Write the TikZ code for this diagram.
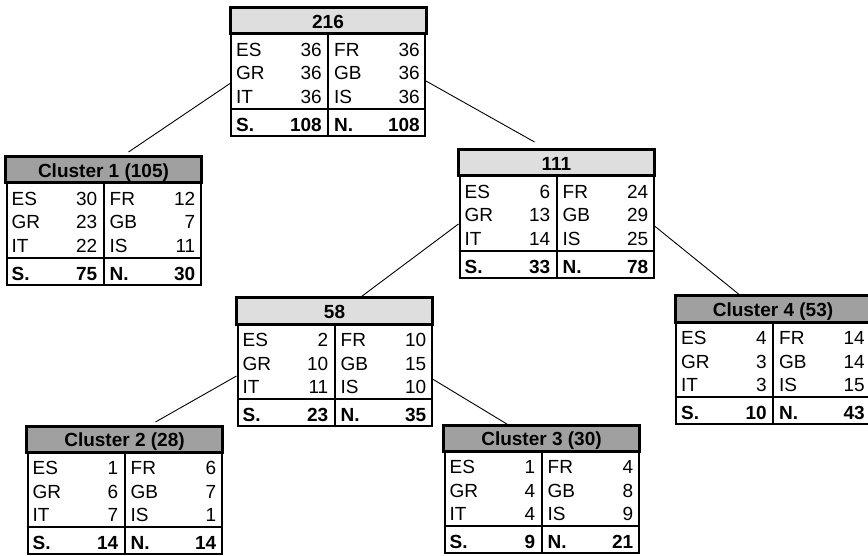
\documentclass[tikz,border=0pt]{standalone}
\usepackage{fontspec}
\setmainfont{Liberation Sans}
\usepackage{tikz}
\usetikzlibrary{calc, positioning}

\definecolor{hdrlight}{RGB}{222,222,222}
\definecolor{hdrdark}{RGB}{160,160,160}

\tikzset{
  tabbox/.style={draw, line width=2pt, minimum width=194pt, minimum height=127pt,
    inner sep=0pt, anchor=north west},
  hdrbox/.style={draw, line width=3pt},
  sumrule/.style={line width=2.5pt},
  cell/.style={inner sep=0pt, font=\fontsize{19}{22}\selectfont},
  boldcell/.style={cell, font=\fontsize{19}{22}\selectfont\bfseries},
  branch/.style={line width=0.9pt},
}

% #1 name, #2 top left, #3 header colour, #4 header text,
% #5 rows (label/value/label/value), #6 S. total, #7 N. total
\newcommand{\clustertab}[7]{%
  \node[tabbox] (#1) at (#2) {};
  \draw[hdrbox, fill=#3] (#1.north west) rectangle ([yshift=-26pt]#1.north east);
  \node[boldcell, anchor=base] at ([yshift=-20.5pt]#1.north) {#4};
  \draw[line width=2pt] ([yshift=-26pt]#1.north) -- (#1.south);
  \draw[sumrule] ([yshift=28pt]#1.south west) -- ([yshift=28pt]#1.south east);
  \foreach \lname/\lval/\rname/\rval [count=\i] in {#5} {
    \pgfmathsetmacro\ry{-48.5-(\i-1)*23.5}
    \node[cell, anchor=base west] at ([shift={(6pt,\ry pt)}]#1.north west) {\lname};
    \node[cell, anchor=base east] at ([shift={(-6pt,\ry pt)}]#1.north) {\lval};
    \node[cell, anchor=base west] at ([shift={(6pt,\ry pt)}]#1.north) {\rname};
    \node[cell, anchor=base east] at ([shift={(-6pt,\ry pt)}]#1.north east) {\rval};
  }
  \node[boldcell, anchor=base west] at ([shift={(6pt,5.5pt)}]#1.south west) {S.};
  \node[boldcell, anchor=base east] at ([shift={(-6pt,5.5pt)}]#1.south) {#6};
  \node[boldcell, anchor=base west] at ([shift={(6pt,5.5pt)}]#1.south) {N.};
  \node[boldcell, anchor=base east] at ([shift={(-6pt,5.5pt)}]#1.south east) {#7};
}

\begin{document}
\begin{tikzpicture}[x=1pt, y=-1pt]
  \useasboundingbox (0,0) rectangle (868,556);
  \clip (0,0) rectangle (868,556);

  \clustertab{root}{230,8}{hdrlight}{216}{ES/36/FR/36, GR/36/GB/36, IT/36/IS/36}{108}{108}
  \clustertab{c1}{5.5,157}{hdrdark}{Cluster 1 (105)}{ES/30/FR/12, GR/23/GB/7, IT/22/IS/11}{75}{30}
  \clustertab{n111}{458.5,150}{hdrlight}{111}{ES/6/FR/24, GR/13/GB/29, IT/14/IS/25}{33}{78}
  \clustertab{n58}{236.5,298}{hdrlight}{58}{ES/2/FR/10, GR/10/GB/15, IT/11/IS/10}{23}{35}
  \clustertab{c4}{675,296}{hdrdark}{Cluster 4 (53)}{ES/4/FR/14, GR/3/GB/14, IT/3/IS/15}{10}{43}
  \clustertab{c2}{26.5,426}{hdrdark}{Cluster 2 (28)}{ES/1/FR/6, GR/6/GB/7, IT/7/IS/1}{14}{14}
  \clustertab{c3}{443.5,425}{hdrdark}{Cluster 3 (30)}{ES/1/FR/4, GR/4/GB/8, IT/4/IS/9}{9}{21}

  % branches
  \draw[branch] ([yshift=-11pt]root.west) -- ([shift={(25pt,5pt)}]c1.north);
  \draw[branch] ([yshift=-8.5pt]root.east) -- ([shift={(-22pt,8pt)}]n111.north);
  \draw[branch] ([yshift=-9.5pt]n111.west) -- ([xshift=25pt]n58.north);
  \draw[branch] ([yshift=-11.5pt]n111.east) -- ([xshift=-32pt]c4.north);
  \draw[branch] ([yshift=-13.5pt]n58.west) -- ([shift={(31pt,4pt)}]c2.north);
  \draw[branch] ([yshift=-16.5pt]n58.east) -- ([xshift=-33pt]c3.north);
\end{tikzpicture}
\end{document}
